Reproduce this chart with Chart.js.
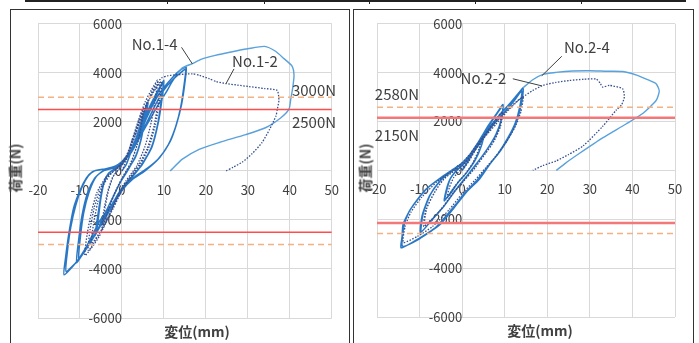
<!DOCTYPE html>
<html>
<head>
<meta charset="utf-8">
<script src="https://cdn.jsdelivr.net/npm/chart.js@4.4.1/dist/chart.umd.min.js"></script>
<style>
  body { margin: 0; background: #fff; width: 699px; height: 343px; overflow: hidden; position: relative; font-family: "Noto Sans CJK JP", sans-serif; }
  .box { position: absolute; }
  .frame { position: absolute; border: 1px solid #333; box-sizing: border-box; }
  .rule { position: absolute; background: #222; }
  .ytitle { position: absolute; font-size: 14px; font-weight: 700; color: #404040; transform: rotate(-90deg); transform-origin: center; white-space: nowrap; }
  .xtitle { position: absolute; font-size: 14px; font-weight: 700; color: #404040; white-space: nowrap; transform: translateX(-50%); }
</style>
</head>
<body>
<div class="rule" style="left:25px;top:0;width:661px;height:2px"></div>
<div class="rule" style="left:167px;top:0;width:1px;height:4px"></div>
<div class="rule" style="left:264px;top:0;width:1px;height:4px"></div>
<div class="rule" style="left:369px;top:0;width:1px;height:4px"></div>
<div class="rule" style="left:475px;top:0;width:1px;height:4px"></div>
<div class="rule" style="left:581px;top:0;width:1px;height:4px"></div>
<div class="frame" style="left:10px;top:9px;width:340px;height:345px"></div>
<div class="frame" style="left:353px;top:9px;width:341px;height:345px"></div>

<div class="box" style="left:0;top:0;width:350px;height:343px"><canvas id="left"></canvas></div>
<div class="box" style="left:350px;top:0;width:349px;height:343px"><canvas id="right"></canvas></div>

<div class="ytitle" style="left:-10px;top:158px">荷重(N)</div>
<div class="ytitle" style="left:340px;top:158px">荷重(N)</div>
<div class="xtitle" style="left:197px;top:321px">変位(mm)</div>
<div class="xtitle" style="left:540px;top:320px">変位(mm)</div>

<script>
// displacement (mm), load (N) pairs
const no14Cycles = [
  [0,0],[1,250],[2,700],[3.5,1400],[5,2200],[6,2800],
  [5.6,2300],[4.8,1500],[3.5,700],[1.5,50],[-0.5,-500],[-2.5,-1200],[-4.5,-1900],[-6,-2500],
  [-5.6,-1900],[-5,-1100],[-4.2,-450],[-3,-80],[-1.5,100],[0,300],
  [2,750],[3.5,1350],[5,2100],[6.2,2750],
  [5.5,2100],[4.6,1300],[3.2,550],[1.2,0],[-0.8,-600],[-2.8,-1300],[-4.8,-2000],[-6.4,-2650],
  [-5.9,-2000],[-5.2,-1200],[-4.4,-500],[-3.2,-100],[-1.6,80],[0,280],
  [2,800],[4,1600],[6,2400],[8,3100],[10,3700],
  [9.6,3000],[8.7,2000],[7.2,1000],[4.8,250],[2,-300],[0,-700],[-2.5,-1400],[-5.5,-2300],[-8,-3000],[-10.8,-3750],
  [-10.3,-2800],[-9.5,-1800],[-8.2,-900],[-6.5,-300],[-4.5,0],[-2,120],[0,350],
  [2,750],[4,1500],[6,2300],[8,3000],[9.8,3600],
  [9.4,2900],[8.5,1900],[7,950],[4.5,200],[2,-350],[0,-750],[-2.5,-1450],[-5.5,-2350],[-8,-3050],[-10.3,-3600],
  [-9.9,-2700],[-9.1,-1700],[-7.8,-850],[-6.2,-250],[-4.2,20],[-2,150],[0,380],
  [2,800],[4,1400],[6,2200],[8,2900],[10,3400],[12,3800],[13.8,4100],[15.3,4230],
  [15,3600],[14.2,2700],[13,1900],[11.5,1200],[9,550],[6,100],[3,-250],[0,-700],[-2.5,-1400],[-5.3,-2040],[-8.5,-3100],[-11,-3750],[-13.8,-4240],
  [-13.4,-3500],[-12.6,-2500],[-11.5,-1500],[-10,-800],[-8.5,-300],[-7,-30],[-5,60],[-2.5,100],[-0.5,300],
  [2,700],[4,1300],[6,2000],[8,2700],[10,3300],[12,3700],[14.3,4050],[15.2,4150],
  [14.8,3500],[14,2600],[12.8,1800],[11,1050],[8.5,450],[5.5,0],[2.5,-350],[0,-800],[-2.5,-1500],[-5,-2200],[-8,-3050],[-10.5,-3650],[-13.3,-4100],
  [-13,-3300],[-12.2,-2300],[-11,-1400],[-9.6,-700],[-8,-200],[-6.5,0],[-4,80],[-1.5,200],[0.5,450],
  [2.5,900],[4.5,1450],[6.5,2050],[8.5,2650],[10.5,3200],[12,3650],[13.2,3950]
];
const no14Final = [
  [13.2,3950],[14.4,4200],[16.8,4380],[19,4560],[22,4700],[26,4850],[30,4980],[34,5080],[36.6,4880],
  [38.6,4580],[40.5,4280],[41,3900],[40.7,3400],[40.2,2900],[39.8,2520],[37.8,2160],[34.2,1760],
  [29.5,1480],[23.2,1160],[18.4,880],[14.4,480],[11.5,0]
];
const no12Curve = [
  [0,0],[1,400],[2.5,1200],[4,2000],[5,2500],
  [4.5,1800],[3.5,1000],[2,300],[0,-300],[-2,-1000],[-3.5,-1700],[-4.5,-2200],
  [-4,-1500],[-3.2,-800],[-2,-200],[-0.5,100],[1,500],
  [2.3,1200],[3.8,1950],[5.2,2600],
  [4.7,1900],[3.7,1100],[2.2,350],[0.2,-250],[-1.8,-950],[-3.3,-1650],[-4.8,-2300],
  [-4.3,-1600],[-3.4,-850],[-2.2,-250],[-0.7,80],[1,500],
  [2.5,1300],[4,2100],[5.5,2800],[7,3300],[8.5,3700],
  [8,3000],[7,2000],[5.5,1000],[3.5,200],[1,-400],[-1,-1000],[-3,-1800],[-5.5,-2700],[-8.8,-3450],
  [-8.3,-2600],[-7.3,-1700],[-6,-900],[-4,-300],[-2,0],[0,300],[2,900],
  [3.5,1600],[5,2300],[6.5,2900],[8,3350],[9.5,3650],
  [9,2900],[8,1900],[6.5,1000],[4.5,300],[2,-300],[0,-800],[-2,-1500],[-4.5,-2300],[-7.3,-2970],
  [-6.8,-2200],[-5.8,-1300],[-4.5,-600],[-2.5,-100],[-0.5,200],[1.5,700],
  [3,1400],[4.5,2100],[6,2750],[7.5,3250],[9,3600],
  [8.6,2800],[7.6,1800],[6,900],[4,250],[1.5,-350],[-0.5,-900],[-2.5,-1600],[-5,-2450],[-8,-3250],
  [-7.6,-2400],[-6.6,-1500],[-5.2,-750],[-3.2,-200],[-1.2,100],[1,600],
  [3.5,1700],[5,2400],[6.5,3000],[8,3500],[9.5,3800],[10.9,3880],
  [13,3920],[16.8,3960],[18.5,3900],[20.8,3760],[22.5,3640],[24.8,3560],[27.5,3500],[30.3,3440],
  [34,3360],[37,3280],[37.4,2880],[37,2500],[36.7,2240],[35.2,1700],[33.4,1160],[31,700],
  [28.7,360],[26.5,150],[24.8,0]
];

const no24Cycles = [
  [0,0],[1.5,400],[3,900],[5,1500],
  [4.5,1000],[3,400],[1,-100],[-1,-500],[-2.5,-900],[-4,-1200],
  [-3.6,-800],[-2.8,-350],[-1.5,-50],[0,200],[2,600],
  [3.5,1050],[5.2,1550],
  [4.6,1050],[3.1,450],[1.1,-80],[-0.9,-480],[-2.6,-880],[-4.2,-1250],
  [-3.8,-850],[-2.9,-380],[-1.6,-60],[0,200],[2,600],
  [4,1200],[6,1800],[8,2300],[9.6,2700],
  [9.2,2100],[8,1500],[6,900],[3.5,300],[1,-250],[-1.5,-800],[-4,-1400],[-7,-2000],[-9.6,-2500],
  [-9.2,-1800],[-7.5,-1000],[-5,-400],[-3,-100],[-1,150],[1,450],
  [3,950],[5.5,1600],[7.5,2150],[9.6,2650],
  [9.1,2000],[7.8,1400],[5.8,850],[3.3,250],[0.8,-300],[-1.7,-850],[-4.2,-1450],[-7.2,-2050],[-9.8,-2550],
  [-9.4,-1850],[-7.7,-1050],[-5.2,-420],[-3.1,-120],[-1.1,130],[1,450],
  [3,900],[5.5,1500],[8,2100],[10.5,2600],[12.5,2950],[14.3,3380],
  [14,2800],[13,2100],[11.5,1500],[9,800],[6.5,250],[4.1,-350],[1,-890],[-1.4,-1420],[-5.3,-2230],[-10,-2770],[-14.3,-3170],
  [-14.1,-2700],[-13.9,-2230],[-12.8,-1800],[-11.5,-1420],[-8.4,-750],[-5.3,-350],[-2.9,-80],[-0.5,200],
  [2,600],[4.5,1200],[7,1800],[9.5,2300],[12,2800],[14,3250],
  [13.6,2650],[12.5,1950],[10.8,1350],[8.5,700],[6,150],[3.5,-400],[0.5,-950],[-2,-1500],[-6,-2300],[-10,-2800],[-14,-3100],
  [-13.7,-2300],[-12.5,-1700],[-10.5,-1200],[-8,-700],[-5,-300],[-2.5,0],[0,300],
  [2.5,800],[5,1400],[7.5,2000],[10,2500],[12.5,3000],[14.3,3380]
];
const no24Final = [
  [14.3,3380],[16.5,3700],[19,3930],[22,4010],[26,4070],[30,4080],[34,4060],[37.7,4050],[41,3900],
  [44,3680],[45.6,3540],[46.3,3250],[45.6,2870],[42.5,2340],[38.5,1900],[33,1330],[27.5,690],
  [24.3,300],[22.1,0]
];
const no22Curve = [
  [0,0],[1.5,350],[3,800],[4.5,1300],
  [4,900],[2.5,300],[0.5,-200],[-1.5,-600],[-3.5,-1100],
  [-3,-700],[-2,-300],[-0.5,0],[1,300],
  [3,800],[5.5,1500],[7.5,2000],[9.5,2400],
  [9,1800],[7.5,1200],[5.5,700],[3,100],[0.5,-400],[-2,-900],[-5,-1600],[-9,-2300],
  [-8.5,-1600],[-6.5,-900],[-4.5,-400],[-2.5,-100],[0,200],
  [2.5,750],[5,1350],[7.5,1950],[9.3,2350],
  [8.8,1750],[7.3,1150],[5.3,650],[2.8,50],[0.3,-450],[-2.2,-950],[-5.2,-1650],[-8.8,-2250],
  [-8.3,-1550],[-6.3,-850],[-4.3,-350],[-2.3,-80],[0,200],
  [2.5,700],[5,1300],[8,1900],[10.5,2400],[12.5,2750],[14.3,3010],
  [13.8,2400],[12.5,1800],[10.5,1200],[8,600],[5.5,100],[3,-400],[0,-950],[-3,-1600],[-7,-2300],[-10.5,-2700],[-13.8,-2950],
  [-13.4,-2300],[-12,-1700],[-9.5,-1100],[-6,-480],[-3.5,-150],[-1,150],
  [2,700],[4.5,1300],[7.5,1900],[10.5,2450],[13,2850],[14.3,3010],
  [16.6,3270],[19,3480],[22,3600],[25.2,3680],[28.5,3730],[31.5,3740],[32.5,3550],[33,3410],[34.6,3480],
  [37.7,3340],[38.1,3010],[37.5,2700],[36.2,2470],[33,1800],[28.4,1000],[25,650],[22.1,390],[19,200],[16.6,0]
];

// reference load levels (N)
const leftSolidLevels = [2500, -2500];
const leftDashLevels = [3000, -3000];
const rightSolidLevels = [2150, -2150];
const rightDashLevels = [2580, -2580];
const xSpan = [-20, 50];

const toPts = (arr) => arr.map(([x, y]) => ({ x, y }));
const levelSet = (levels, color, dash, width) => levels.map((v) => ({
  data: xSpan.map((x) => ({ x, y: v })),
  borderColor: color, borderWidth: width, borderDash: dash, pointRadius: 0, showLine: true, tension: 0
}));
const curve = (arr, color, dash, width) => ({
  data: toPts(arr), borderColor: color, borderWidth: width, borderDash: dash,
  pointRadius: 0, showLine: true, tension: 0.2
});

const notesPlugin = {
  id: "notes",
  afterDatasetsDraw(chart, args, opts) {
    const { ctx, scales: { x, y } } = chart;
    ctx.save();
    ctx.strokeStyle = "#404040";
    ctx.lineWidth = 1;
    (opts.lines || []).forEach(([x1, y1, x2, y2]) => {
      ctx.beginPath();
      ctx.moveTo(x.getPixelForValue(x1), y.getPixelForValue(y1));
      ctx.lineTo(x.getPixelForValue(x2), y.getPixelForValue(y2));
      ctx.stroke();
    });
    ctx.fillStyle = "#404040";
    ctx.font = '15px "Noto Sans CJK JP"';
    ctx.textBaseline = "middle";
    (opts.labels || []).forEach(([text, lx, ly, align]) => {
      ctx.textAlign = align;
      ctx.fillText(text, x.getPixelForValue(lx), y.getPixelForValue(ly));
    });
    ctx.restore();
  }
};

function makeChart(id, datasets, notes, padding) {
  const tickFont = { family: '"Noto Sans CJK JP"', size: 13 };
  return new Chart(document.getElementById(id), {
    type: "scatter",
    data: { datasets },
    options: {
      responsive: true,
      maintainAspectRatio: false,
      animation: false,
      layout: { padding },
      plugins: { legend: { display: false }, tooltip: { enabled: false }, notes },
      scales: {
        x: {
          type: "linear", min: -20, max: 50, position: { y: 0 },
          ticks: { stepSize: 10, color: "#404040", font: tickFont, padding: 11, callback: (v) => String(v) },
          grid: { color: "#d9d9d9", drawTicks: false },
          border: { color: "#d9d9d9" }
        },
        y: {
          type: "linear", min: -6000, max: 6000, position: { x: 0 },
          ticks: { stepSize: 2000, color: "#404040", font: tickFont, padding: 16, callback: (v) => String(v) },
          grid: { color: "#d9d9d9", drawTicks: false },
          border: { color: "#d9d9d9" }
        }
      }
    },
    plugins: [notesPlugin]
  });
}

makeChart("left", [
  ...levelSet(leftSolidLevels, "#ff4d4d", [], 1.5),
  ...levelSet(leftDashLevels, "#f4b183", [6, 4], 1.5),
  curve(no12Curve, "#35508f", [1.5, 1.5], 1.3),
  curve(no14Final, "#5aa2dc", [], 1.4),
  curve(no14Cycles, "#2a78c5", [], 1.5)
], {
  lines: [[14.2, 5040, 16.8, 4360], [26.7, 4160, 24.8, 3560]],
  labels: [["No.1-4", 7.8, 5160, "center"], ["No.1-2", 31.7, 4480, "center"],
           ["3000N", 40.5, 3280, "left"], ["2500N", 40.5, 2000, "left"]]
}, { left: 38, right: 17, top: 19, bottom: 25 });

makeChart("right", [
  ...levelSet(rightSolidLevels, "#f47878", [], 2.5),
  ...levelSet(rightDashLevels, "#f4b183", [6, 4], 1.5),
  curve(no22Curve, "#35508f", [1.5, 1.5], 1.3),
  curve(no24Final, "#5aa2dc", [], 1.4),
  curve(no24Cycles, "#2a78c5", [], 1.5)
], {
  lines: [[23.4, 4670, 18.7, 3870], [11.9, 3750, 18.7, 3460]],
  labels: [["No.2-4", 29.3, 5030, "center"], ["No.2-2", 5.0, 3790, "center"],
           ["2580N", -20.5, 3100, "left"], ["2150N", -20.5, 1450, "left"]]
}, { left: 27, right: 24, top: 19, bottom: 26 });
</script>
</body>
</html>
